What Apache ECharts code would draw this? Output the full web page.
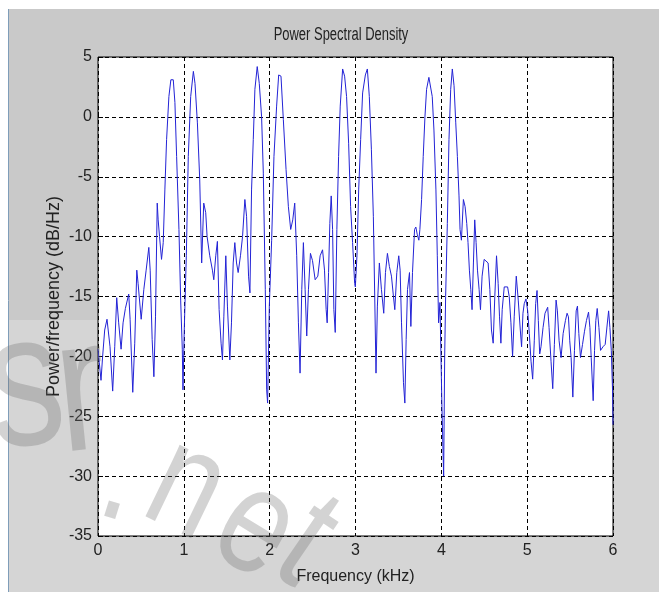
<!DOCTYPE html>
<html>
<head>
<meta charset="utf-8">
<script src="https://cdn.jsdelivr.net/npm/echarts@6/dist/echarts.min.js"></script>
<style>
  html, body { margin: 0; padding: 0; background: #fff; }
  #chart { width: 659px; height: 596px; }
</style>
</head>
<body>
<div id="chart"></div>
<script>
// frequency in kHz, psd in dB/Hz
var freq = [
  0.000, 0.015, 0.035, 0.054, 0.078, 0.105, 0.124, 0.140, 0.171, 0.195,
  0.218, 0.241, 0.269, 0.292, 0.319, 0.358, 0.374, 0.405, 0.428, 0.452,
  0.467, 0.503, 0.534, 0.561, 0.592, 0.608, 0.631, 0.651, 0.670, 0.690,
  0.701, 0.717, 0.740, 0.760, 0.779, 0.799, 0.826, 0.849, 0.877, 0.896,
  0.916, 0.943, 0.963, 0.982, 0.990, 1.005, 1.029, 1.052, 1.080, 1.111,
  1.130, 1.158, 1.185, 1.208, 1.232, 1.255, 1.271, 1.302, 1.333, 1.349,
  1.372, 1.391, 1.411, 1.434, 1.450, 1.466, 1.489, 1.508, 1.536, 1.555,
  1.575, 1.594, 1.614, 1.633, 1.660, 1.684, 1.711, 1.731, 1.754, 1.770,
  1.789, 1.809, 1.828, 1.855, 1.879, 1.906, 1.926, 1.949, 1.965, 1.976,
  1.996, 2.023, 2.050, 2.081, 2.105, 2.132, 2.159, 2.191, 2.218, 2.245,
  2.269, 2.292, 2.315, 2.335, 2.354, 2.374, 2.393, 2.413, 2.432, 2.452,
  2.475, 2.499, 2.530, 2.561, 2.588, 2.616, 2.639, 2.658, 2.670, 2.686,
  2.701, 2.717, 2.733, 2.748, 2.764, 2.783, 2.803, 2.822, 2.850, 2.873,
  2.896, 2.920, 2.943, 2.966, 2.990, 2.998, 3.017, 3.037, 3.060, 3.083,
  3.115, 3.138, 3.161, 3.185, 3.208, 3.224, 3.239, 3.255, 3.278, 3.302,
  3.329, 3.349, 3.372, 3.395, 3.419, 3.442, 3.458, 3.481, 3.504, 3.520,
  3.536, 3.559, 3.575, 3.590, 3.606, 3.629, 3.645, 3.664, 3.688, 3.703,
  3.719, 3.738, 3.750, 3.770, 3.789, 3.809, 3.828, 3.855, 3.875, 3.894,
  3.914, 3.937, 3.953, 3.968, 3.984, 4.007, 4.027, 4.039, 4.050, 4.070,
  4.089, 4.109, 4.128, 4.148, 4.168, 4.187, 4.206, 4.218, 4.234, 4.257,
  4.277, 4.296, 4.311, 4.327, 4.343, 4.358, 4.374, 4.389, 4.405, 4.421,
  4.440, 4.456, 4.475, 4.499, 4.522, 4.545, 4.565, 4.584, 4.604, 4.623,
  4.643, 4.662, 4.678, 4.694, 4.709, 4.733, 4.772, 4.791, 4.811, 4.830,
  4.849, 4.873, 4.896, 4.920, 4.935, 4.951, 4.966, 4.986, 5.006, 5.025,
  5.045, 5.064, 5.083, 5.099, 5.115, 5.130, 5.146, 5.161, 5.185, 5.208,
  5.239, 5.255, 5.278, 5.298, 5.317, 5.337, 5.352, 5.372, 5.395, 5.419,
  5.446, 5.465, 5.481, 5.496, 5.512, 5.532, 5.551, 5.571, 5.586, 5.602,
  5.621, 5.645, 5.668, 5.691, 5.715, 5.731, 5.746, 5.769, 5.785, 5.800,
  5.816, 5.836, 5.855, 5.883, 5.909, 5.933, 5.949, 5.964, 5.980, 5.995,
  6.000
]
var psd = [
  -19.4, -20.5, -22.0, -20.0, -17.8, -16.9, -16.8, -19.2, -22.9, -19.2,
  -15.1, -17.2, -19.4, -17.2, -16.0, -14.8, -16.9, -23.0, -18.9, -12.8,
  -13.9, -16.9, -14.4, -12.8, -10.9, -12.8, -18.6, -21.7, -16.7, -7.2,
  -8.6, -10.0, -11.9, -10.5, -6.1, -1.9, 1.7, 3.1, 3.1, 1.2,
  -3.3, -9.4, -15.3, -19.4, -22.8, -17.8, -11.6, -3.3, 1.7, 3.8,
  2.8, -0.5, -5.2, -12.2, -7.2, -8.0, -10.0, -11.6, -12.8, -13.6,
  -11.6, -10.4, -16.1, -18.9, -20.3, -16.7, -11.6, -15.8, -20.3, -17.2,
  -12.2, -10.5, -12.2, -13.0, -11.6, -10.0, -6.9, -8.3, -13.3, -14.7,
  -6.1, -1.9, 2.3, 4.2, 2.8, 0.0, -4.7, -14.4, -22.8, -23.9,
  -15.8, -10.3, -3.3, 0.9, 3.5, 3.4, -0.2, -4.4, -7.5, -9.4,
  -8.6, -7.2, -11.6, -17.2, -21.4, -14.4, -10.5, -14.4, -18.3, -14.4,
  -11.4, -12.0, -13.6, -13.3, -11.6, -11.1, -12.8, -16.1, -17.2, -13.0,
  -8.9, -6.6, -9.4, -16.1, -18.0, -9.4, -3.3, 0.9, 4.0, 3.4,
  1.7, -2.2, -7.5, -10.5, -13.9, -14.2, -11.6, -6.1, -1.9, 2.0,
  3.5, 4.0, 1.7, -2.7, -8.3, -15.0, -21.4, -15.8, -12.2, -14.4,
  -16.4, -13.0, -11.4, -12.5, -13.3, -15.0, -16.1, -13.0, -11.6, -12.8,
  -17.2, -22.2, -23.9, -18.6, -14.4, -13.0, -17.5, -13.0, -9.4, -9.2,
  -9.8, -10.3, -9.4, -6.9, -3.3, 0.0, 2.3, 3.3, 3.4, 1.7,
  -1.1, -6.1, -11.6, -17.2, -15.5, -24.2, -30.0, -20.0, -15.0, -8.9,
  -1.9, 2.3, 4.0, 2.6, -0.5, -3.3, -6.6, -9.4, -10.3, -6.9,
  -7.5, -8.9, -10.5, -12.8, -14.4, -16.1, -12.2, -8.6, -10.5, -12.8,
  -14.4, -16.1, -13.3, -11.9, -12.0, -12.2, -14.4, -17.8, -18.9, -15.0,
  -11.6, -13.9, -16.7, -18.9, -16.1, -14.2, -14.2, -15.0, -17.2, -20.0,
  -16.7, -13.3, -15.3, -17.8, -19.2, -16.4, -15.6, -15.2, -16.2, -18.1,
  -20.4, -21.9, -18.7, -15.6, -14.5, -17.0, -19.8, -19.2, -17.6, -16.4,
  -15.9, -17.6, -20.4, -22.7, -19.0, -15.3, -16.2, -18.7, -20.1, -18.1,
  -17.0, -16.4, -16.7, -18.7, -20.1, -23.4, -19.5, -16.2, -15.8, -18.1,
  -20.1, -19.0, -17.9, -17.0, -16.3, -17.6, -20.1, -23.7, -19.5, -17.0,
  -16.0, -17.6, -19.5, -19.2, -19.0, -17.3, -16.2, -17.6, -19.5, -22.9,
  -25.7
]
var xTicks = [0, 1, 2, 3, 4, 5, 6]
var yTicks = [-35, -30, -25, -20, -15, -10, -5, 0, 5]

var seriesData = freq.map(function (f, i) { return [f, psd[i]] })

var font = '"Liberation Sans", Arial, sans-serif'
var txtColor = '#222'
var dash = { color: '#000', width: 1, type: [4, 3] }

// watermark glyphs, only decoration
function mark(ch, x, y, size, rot) {
  return {
    type: 'text', x: x, y: y, rotation: rot, scaleX: 0.8, z: 100, silent: true,
    style: {
      text: ch, fill: 'rgba(110,110,110,0.3)',
      font: size + 'px "Liberation Sans", Arial, sans-serif',
      textAlign: 'center', textVerticalAlign: 'middle'
    }
  }
}

var chart = echarts.init(document.getElementById('chart'), null, { renderer: 'canvas' })
var option = {
  animation: false,
  backgroundColor: '#fff',
  grid: {
    left: 98, right: 46, top: 57, bottom: 60,
    show: true, backgroundColor: '#fff', borderColor: '#000', borderWidth: 1
  },
  xAxis: {
    type: 'value', min: xTicks[0], max: xTicks[xTicks.length - 1], interval: 1,
    name: 'Frequency (kHz)', nameLocation: 'middle', nameGap: 33, nameMoveOverlap: false,
    nameTextStyle: { fontFamily: font, fontSize: 16, color: txtColor },
    axisLine: { show: false },
    axisTick: { show: true, inside: true, length: 5, lineStyle: { color: '#000' } },
    axisLabel: { fontFamily: font, fontSize: 16, color: txtColor, margin: 7 },
    splitLine: { show: true, lineStyle: dash }
  },
  yAxis: {
    type: 'value', min: yTicks[0], max: yTicks[yTicks.length - 1], interval: 5,
    name: 'Power/frequency (dB/Hz)', nameLocation: 'middle', nameGap: 35, nameMoveOverlap: false,
    nameTextStyle: { fontFamily: font, fontSize: 18, color: txtColor },
    axisLine: { show: false },
    axisTick: { show: true, inside: true, length: 5, lineStyle: { color: '#000' } },
    axisLabel: { fontFamily: font, fontSize: 16, color: txtColor, margin: 6 },
    splitLine: { show: true, lineStyle: dash }
  },
  graphic: [
    { type: 'rect', z: -10, silent: true, shape: { x: 9, y: 9, width: 650, height: 583 },
      style: { fill: '#c9c9c9' } },
    { type: 'rect', z: -9, silent: true, shape: { x: 0, y: 320, width: 659, height: 276 },
      style: { fill: 'rgba(255,255,255,0.22)' } },
    { type: 'line', z: -8, silent: true, shape: { x1: 8.5, y1: 9, x2: 8.5, y2: 592 },
      style: { stroke: '#7f9db9', lineWidth: 1 } },
    { type: 'text', x: 341, y: 35, scaleX: 0.72, z: 5, silent: true,
      style: { text: 'Power Spectral Density', fill: txtColor, font: '18px ' + font,
        textAlign: 'center', textVerticalAlign: 'middle' } },
    mark('s', 26, 392, 190, 0.1),
    mark('r', 82, 397, 190, 0.1),
    mark('.', 122, 478, 150, -0.3),
    mark('n', 186, 490, 150, -0.45),
    mark('e', 255, 530, 150, -0.55),
    mark('t', 305, 545, 150, -0.6)
  ],
  series: [{
    type: 'line',
    data: seriesData,
    showSymbol: false,
    smooth: false,
    z: 3,
    lineStyle: { color: '#2323d6', width: 1 },
    itemStyle: { color: '#2323d6' }
  }]
}
chart.setOption(option)
</script>
</body>
</html>
